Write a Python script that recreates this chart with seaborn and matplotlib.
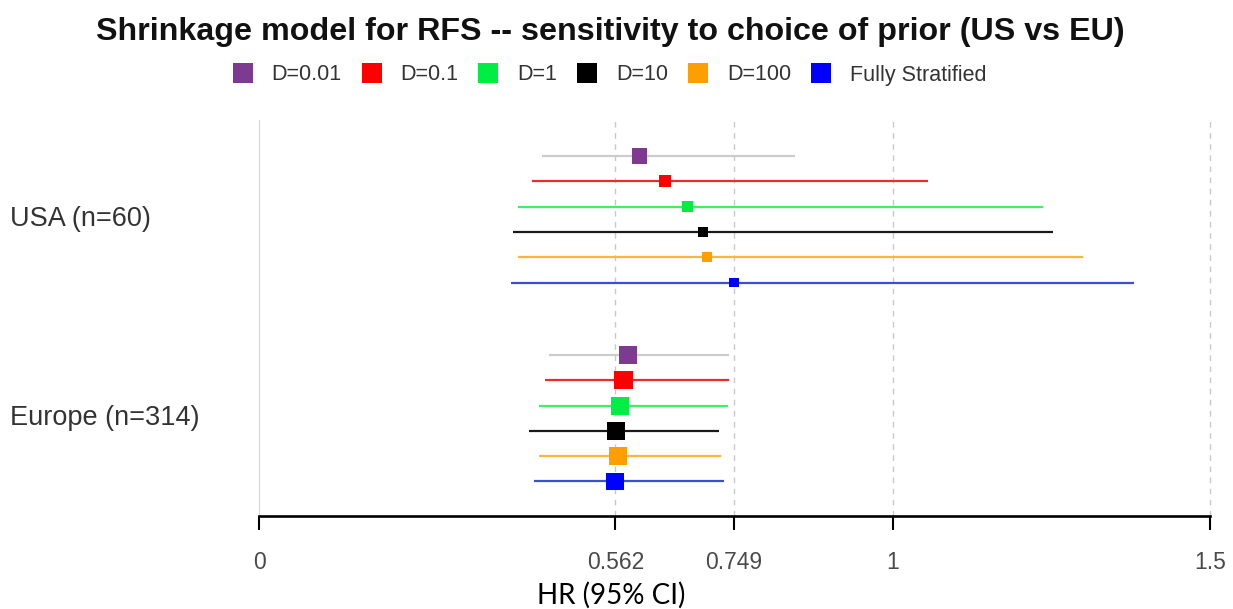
import numpy as np
import pandas as pd
import matplotlib
matplotlib.use("Agg")
import matplotlib.pyplot as plt
import matplotlib.transforms as mtransforms
from matplotlib.lines import Line2D
import seaborn as sns

# ---- data -----------------------------------------------------------------
priors = ["D=0.01", "D=0.1", "D=1", "D=10", "D=100", "Fully Stratified"]
regions = ["USA (n=60)", "Europe (n=314)"]

usa_hr = [0.600, 0.640, 0.676, 0.701, 0.707, 0.749]
usa_lo = [0.446, 0.431, 0.408, 0.401, 0.408, 0.397]
usa_hi = [0.845, 1.055, 1.237, 1.253, 1.299, 1.380]

eu_hr = [0.582, 0.575, 0.570, 0.563, 0.566, 0.562]
eu_lo = [0.458, 0.451, 0.441, 0.426, 0.441, 0.433]
eu_hi = [0.741, 0.741, 0.740, 0.725, 0.728, 0.733]

x_ticks = [0, 0.562, 0.749, 1, 1.5]
x_tick_labels = ["0", "0.562", "0.749", "1", "1.5"]

# ---- styling --------------------------------------------------------------
box_colors = ["#7e3a90", "#ff0000", "#00ee44", "#000000", "#ff9e00", "#0000ff"]
ci_colors = ["#cccccc", "#ee2a2a", "#3ef062", "#1a1a1a", "#ffb53a", "#3a50d4"]

sns.set_style("white")
plt.rcParams["font.family"] = ["Liberation Sans", "DejaVu Sans"]

W, H = 1233, 609
fig = plt.figure(figsize=(W / 100, H / 100), dpi=100)

px_x0, px_x1, px_top, px_bot = 259, 1210, 120, 516
ax = fig.add_axes([px_x0 / W, 1 - px_bot / H, (px_x1 - px_x0) / W, (px_bot - px_top) / H])

# row layout: six priors per region, a gap between regions
row_step = 25.3
group_offset = [0.0, (355 - 156) / row_step]
frames = []
for g, (name, hr, lo, hi) in enumerate([(regions[0], usa_hr, usa_lo, usa_hi),
                                         (regions[1], eu_hr, eu_lo, eu_hi)]):
    frames.append(pd.DataFrame({
        "region": name,
        "prior": priors,
        "hr": hr,
        "lo": lo,
        "hi": hi,
        "ypos": group_offset[g] + np.arange(len(priors)),
    }))
df = pd.concat(frames, ignore_index=True)
# box size follows the precision of each estimate (inverse log-CI width)
df["precision"] = 1.0 / np.log(df["hi"] / df["lo"])

# reference lines
ax.axvline(0, color="#d6d6d6", lw=1.6, zorder=0)
for xv in x_ticks[1:]:
    ax.axvline(xv, color="#c8c8c8", lw=1.0, ls=(0, (4, 4)), zorder=0, clip_on=False)

# confidence intervals
line_map = dict(zip(priors, ci_colors))
ax.hlines(df["ypos"], df["lo"], df["hi"], colors=[line_map[p] for p in df["prior"]],
          lw=1.6, zorder=2)

# point estimates
sns.scatterplot(data=df, x="hr", y="ypos", hue="prior", hue_order=priors,
                palette=box_colors, size="precision", sizes=(45, 180),
                marker="s", linewidth=0, legend=False, ax=ax, zorder=3)

ax.set_xlim(0, 1.5)
ax.set_ylim((px_bot - 156) / row_step, -(156 - px_top) / row_step)
ax.set_xlabel("")
ax.set_ylabel("")
ax.set_yticks([])
ax.set_xticks(x_ticks)
ax.set_xticklabels(x_tick_labels)
ax.tick_params(axis="x", direction="out", length=10, width=1.5, color="black",
               pad=15, labelsize=16.5, labelcolor="#4a4a4a", bottom=True)
for side in ["top", "right", "left"]:
    ax.spines[side].set_visible(False)
ax.spines["bottom"].set_color("black")
ax.spines["bottom"].set_linewidth(1.9)

# region labels
blend = mtransforms.blended_transform_factory(fig.transFigure, ax.transData)
for g, name in enumerate(regions):
    ymid = df.loc[df["region"] == name, "ypos"].mean()
    ax.text(10 / W, ymid, name, transform=blend, ha="left", va="center",
            fontsize=19.5, color="#333333")

# title
fig.text(610 / W, 1 - 32 / H,
         "Shrinkage model for RFS -- sensitivity to choice of prior (US vs EU)",
         ha="center", va="center", fontsize=23.2, fontweight="bold", color="#111111")

# legend
handles = [Line2D([], [], marker="s", ls="", markersize=14, color=c, markeredgewidth=0)
           for c in box_colors]
fig.legend(handles, priors, loc="center", bbox_to_anchor=(609 / W, 1 - 75 / H),
           ncol=6, frameon=False, fontsize=15.5, handlelength=1.0,
           handletextpad=0.85, columnspacing=0.88, labelcolor="#333333")

# x-axis label
fig.text(611 / W, 1 - 595 / H, "HR (95% CI)", ha="center", va="center",
         fontsize=20, family=["Lato", "DejaVu Sans"], color="black")

fig.savefig("out.png", dpi=100)
